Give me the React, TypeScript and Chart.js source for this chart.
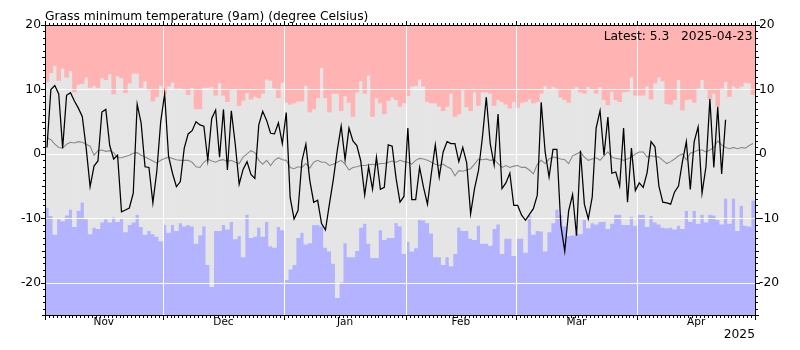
import React, { useEffect, useRef } from 'react';
import { Chart, registerables } from 'chart.js';

Chart.register(...registerables);

const FONT = '"DejaVu Sans", Verdana, sans-serif';

const TITLE = 'Grass minimum temperature (9am) (degree Celsius)';
const LATEST_VALUE = '5.3';
const LATEST_DATE = '2025-04-23';
const YEAR_LABEL = '2025';

const MONTHS = ['Nov', 'Dec', 'Jan', 'Feb', 'Mar', 'Apr'];
// day index at which each month starts (Nov 1 = 0), last entry = May 1
const MONTH_START = [0, 30, 61, 92, 120, 151, 181];
const Y_TICKS = [-20, -10, 0, 10, 20];
const Y_MIN = -25;
const Y_MAX = 20;

// record highest (top of grey band), one per day Nov 1 .. Apr 30
const RECORD_HIGH = [
  11.2, 12.6, 13.7, 11.4, 13.3, 11.9, 12.9, 9.6, 10.8, 10.9, 11.9, 10.3, 10.6, 10.3, 11.8, 11.5, 12.4, 9.3, 12.1, 11.8, 9.5, 11.0, 12.5, 12.5, 10.3, 11.3, 9.9, 8.2, 8.9, 10.6,
  9.3, 10.5, 11.1, 10.2, 10.2, 10.0, 9.2, 10.3, 7.0, 7.0, 10.3, 10.3, 10.4, 9.1, 11.0, 9.1, 8.1, 10.1, 10.1, 7.5, 8.3, 9.5, 8.5, 8.9, 8.7, 9.4, 11.6, 11.4, 10.2, 8.7, 11.1,
  8.0, 7.7, 7.9, 8.2, 8.2, 10.6, 6.5, 7.0, 8.7, 13.4, 8.7, 6.5, 9.4, 9.4, 6.7, 9.0, 8.0, 5.8, 9.6, 11.3, 9.4, 12.2, 5.8, 8.7, 7.9, 6.2, 8.3, 8.8, 8.4, 7.4, 7.9,
  9.0, 10.5, 10.6, 11.6, 10.5, 8.1, 7.9, 7.9, 7.4, 6.7, 7.4, 9.4, 5.8, 6.2, 10.1, 7.3, 6.7, 9.6, 7.5, 9.6, 9.6, 9.4, 7.5, 8.4, 8.1, 7.7, 7.1, 8.1,
  7.2, 8.0, 8.1, 8.5, 7.9, 8.1, 9.4, 10.6, 10.0, 10.4, 10.2, 8.8, 8.4, 8.0, 10.0, 10.4, 9.6, 9.4, 10.4, 10.1, 9.4, 10.4, 8.4, 7.6, 9.7, 8.4, 8.1, 9.6, 9.7, 11.9, 9.1,
  9.1, 9.1, 10.5, 8.5, 11.0, 11.9, 11.3, 7.8, 7.7, 8.4, 11.5, 6.8, 8.4, 8.5, 8.0, 10.2, 11.5, 10.1, 8.5, 9.4, 7.4, 10.2, 11.2, 8.9, 10.5, 10.2, 10.5, 11.1, 11.0, 9.2,
];

// record lowest (bottom of grey band)
const RECORD_LOW = [
  -8.3, -9.6, -12.5, -10.1, -10.4, -9.5, -8.6, -11.3, -8.8, -7.5, -10.1, -12.4, -11.4, -11.6, -10.6, -10.1, -10.6, -9.8, -10.5, -10.0, -12.1, -11.0, -10.6, -9.4, -11.3, -12.5, -11.9, -12.4, -12.8, -13.5,
  -11.0, -12.2, -11.0, -11.9, -10.7, -11.2, -11.0, -11.2, -13.9, -12.6, -11.2, -17.2, -20.6, -11.9, -11.9, -11.0, -11.7, -10.5, -13.2, -12.7, -16.0, -9.4, -13.0, -12.8, -11.4, -12.8, -10.5, -14.3, -14.5, -11.3, -11.8,
  -19.5, -17.9, -17.2, -13.0, -12.2, -14.0, -13.8, -11.0, -11.0, -11.2, -14.5, -15.1, -17.0, -22.3, -19.9, -13.8, -16.0, -16.0, -15.0, -11.4, -10.8, -13.9, -16.1, -16.1, -11.8, -13.3, -13.0, -13.0, -10.7, -11.2, -15.5,
  -13.6, -15.1, -14.6, -10.2, -10.3, -10.7, -12.3, -16.0, -16.0, -17.2, -16.0, -17.4, -15.5, -11.4, -11.9, -11.9, -13.1, -13.3, -11.1, -13.9, -13.9, -14.2, -11.6, -10.9, -15.5, -13.1, -13.1, -15.8,
  -13.1, -13.1, -15.3, -9.5, -12.5, -11.9, -12.0, -15.1, -12.1, -10.7, -8.6, -9.5, -11.2, -12.7, -12.6, -12.2, -12.4, -10.2, -11.5, -10.7, -10.9, -10.5, -10.5, -11.6, -10.8, -9.4, -9.4, -11.0, -11.0, -9.7, -11.1,
  -9.4, -9.4, -11.3, -9.6, -10.6, -10.9, -11.4, -11.5, -11.4, -11.7, -11.1, -11.6, -8.8, -10.5, -8.8, -10.8, -9.4, -10.6, -9.4, -9.5, -10.2, -10.9, -6.9, -10.8, -6.9, -11.9, -8.0, -11.1, -11.2, -7.2,
];

// long-term mean (grey line)
const MEAN = [
  2.5, 2.2, 1.5, 1.0, 0.9, 1.5, 1.8, 1.7, 1.9, 1.8, 1.5, 1.2, -0.2, 0.5, 0.6, 0.4, 0.5, 0.2, -0.6, -0.6, -0.4, -0.2, 0.1, 0.2, -0.2, -0.5, -0.8, -1.1, -1.4, -1.0,
  -0.7, -0.5, -0.7, -0.9, -1.0, -1.0, -1.0, -1.3, -2.0, -2.1, -1.3, -0.8, -1.1, -1.3, -1.0, -0.9, -1.2, -1.0, -1.3, -1.5, -0.5, 0.0, 0.5, 0.2, -1.0, -1.6, -1.0, -1.8, -1.0, -0.6, -0.9,
  -1.0, -2.1, -2.3, -2.0, -2.1, -1.5, -2.2, -1.3, -1.0, -1.3, -1.3, -1.8, -1.6, -1.3, -1.0, -1.6, -2.5, -2.1, -2.0, -1.8, -1.8, -1.7, -1.6, -1.7, -1.5, -1.5, -1.3, -1.1, -1.3, -1.0, -1.2,
  -1.3, -1.6, -1.0, -0.7, -0.8, -1.0, -1.3, -1.6, -1.8, -1.6, -2.0, -2.3, -3.4, -2.6, -2.7, -2.5, -2.3, -1.6, -0.8, -0.9, -0.8, -1.0, -0.9, -1.5, -2.1, -1.8, -2.1, -1.9,
  -1.8, -2.1, -2.1, -2.5, -3.1, -1.6, -1.0, -1.5, -0.8, -0.5, -0.6, -0.8, -0.9, -1.5, -0.3, 0.0, 0.3, -0.5, -1.0, -0.8, -0.6, -1.0, -0.3, 0.3, -0.5, -0.7, -0.8, -1.0, -0.8, -0.5, 0.0,
  0.3, 0.3, -0.5, -0.3, -0.4, -0.5, -1.0, -1.5, -1.2, -0.8, -0.3, 0.0, -0.9, 0.1, 0.3, 0.6, 0.6, 0.3, 0.6, 1.0, 2.0, 1.4, 1.0, 0.8, 1.0, 0.8, 1.0, 0.9, 1.3, 1.6,
];

// this season's observations (black line), Nov 1 .. Apr 23
const ACTUAL = [
  1.0, 10.0, 10.6, 9.3, 0.9, 9.1, 9.5, 8.2, 7.1, 5.8, 0.9, -5.1, -1.9, -1.1, 6.5, 6.9, 1.3, -0.8, -0.2, -9.0, -8.7, -8.4, -6.1, 7.7, 4.8, -2.0, -2.1, -7.6, -2.7, 5.0,
  9.3, -0.4, -3.0, -5.1, -4.3, 0.9, 3.1, 3.6, 5.0, 4.5, 4.3, -1.0, 5.5, 6.8, -0.5, 6.9, -2.5, 6.7, 1.5, -4.7, -2.4, -1.2, -3.2, -3.8, 4.5, 6.6, 5.2, 3.2, 3.1, 4.8, 1.6,
  6.4, -6.8, -10.1, -8.8, -1.1, 1.5, -4.1, -7.5, -7.2, -10.8, -11.8, -7.8, -4.0, 0.5, 4.3, -0.9, 4.0, 2.0, 1.3, -1.1, -6.4, -2.0, -5.5, -0.5, -5.5, -5.2, 1.4, 1.2, -3.8, -7.5, -6.6,
  4.0, -7.1, -7.1, -2.1, -5.2, -7.8, -3.0, 1.4, -3.6, 0.3, 1.9, 1.6, 1.6, -1.2, 1.0, -1.4, -9.3, -5.4, -2.6, 2.5, 8.8, 1.6, -1.7, 6.2, -5.4, -4.5, -3.0, -8.0,
  -8.0, -9.5, -10.3, -9.4, -8.5, -6.4, 8.0, 0.3, -3.6, 0.7, 0.7, -11.1, -15.1, -8.8, -6.3, -12.7, 0.5, -7.8, -10.1, -6.7, 4.0, 6.7, -0.2, 5.7, -3.0, -2.8, -5.0, 4.0, -7.5, 0.9, -5.7,
  -4.5, -5.2, -2.9, 1.9, 1.1, -5.0, -7.5, -7.6, -7.8, -5.9, -5.0, -1.2, 1.9, -5.5, 1.9, 4.2, -6.1, -2.0, 8.5, -2.1, 7.3, -3.1, 5.3,
];

const MONTH_MID = MONTHS.map((_, i) => (MONTH_START[i] + MONTH_START[i + 1]) / 2);
const N_DAYS = MONTH_START[MONTH_START.length - 1];

const framePlugin = {
  id: 'frameAndGrid',
  afterDatasetDraw(chart: any, args: any) {
    // after the last of the band bars is drawn: white grid over the bands, under the lines
    if (args.index !== 0) return;
    const { ctx, chartArea: a, scales } = chart;
    const x = scales.x;
    const y = scales.y;
    ctx.save();
    ctx.strokeStyle = '#ffffff';
    ctx.lineWidth = 1;
    ctx.beginPath();
    for (const v of Y_TICKS) {
      if (v === Y_MAX) continue;
      const py = Math.round(y.getPixelForValue(v)) + 0.5;
      ctx.moveTo(a.left, py);
      ctx.lineTo(a.right, py);
    }
    for (let i = 1; i < MONTH_START.length - 1; i++) {
      const px = Math.round(x.getPixelForValue(MONTH_START[i])) + 0.5;
      ctx.moveTo(px, a.top);
      ctx.lineTo(px, a.bottom);
    }
    ctx.stroke();
    ctx.restore();
  },
  afterDraw(chart: any) {
    const { ctx, chartArea: a, scales } = chart;
    const x = scales.x;
    const y = scales.y;
    ctx.save();
    ctx.strokeStyle = '#000000';
    ctx.lineWidth = 1;
    const L = Math.round(a.left);
    const R = Math.round(a.right);
    const T = Math.round(a.top);
    const B = Math.round(a.bottom);
    ctx.strokeRect(L + 0.5, T + 0.5, R - L, B - T);
    ctx.beginPath();
    for (let d = 0; d <= N_DAYS; d++) {
      const px = Math.round(x.getPixelForValue(d)) + 0.5;
      const len = MONTH_START.includes(d) ? 4 : 2;
      ctx.moveTo(px, T);
      ctx.lineTo(px, T - len);
      ctx.moveTo(px, B + 1);
      ctx.lineTo(px, B + 1 + len);
    }
    for (let v = Y_MIN; v <= Y_MAX; v++) {
      const py = Math.round(y.getPixelForValue(v)) + 0.5;
      const len = v % 10 === 0 ? 4 : v % 5 === 0 ? 3 : 2;
      ctx.moveTo(L, py);
      ctx.lineTo(L - len, py);
      ctx.moveTo(R + 1, py);
      ctx.lineTo(R + 1 + len, py);
    }
    ctx.stroke();

    ctx.fillStyle = '#000000';
    ctx.font = `12.3px ${FONT}`;
    ctx.textBaseline = 'alphabetic';
    ctx.textAlign = 'left';
    ctx.fillText(TITLE, L, 20);
    ctx.textAlign = 'right';
    ctx.fillText(`Latest: ${LATEST_VALUE}   ${LATEST_DATE}`, R - 2.5, 40);
    ctx.restore();
  },
};

export default function App() {
  const ref = useRef<HTMLCanvasElement>(null);

  useEffect(() => {
    const canvas = ref.current;
    if (!canvas) return;
    const dayX = RECORD_HIGH.map((_, i) => i + 0.5);
    const barCommon = {
      type: 'bar' as const,
      grouped: false,
      barPercentage: 1,
      categoryPercentage: 1,
      borderWidth: 0,
      order: 3,
    };
    const yScale = (position: 'left' | 'right') => ({
      type: 'linear' as const,
      position,
      min: Y_MIN,
      max: Y_MAX,
      grid: { display: false, drawTicks: false },
      border: { display: false },
      afterBuildTicks: (s: any) => {
        s.ticks = Y_TICKS.map((v) => ({ value: v }));
      },
      afterFit: (s: any) => {
        s.width = 45;
      },
      ticks: { padding: 4, color: '#000000', font: { family: FONT, size: 12.3 } },
    });

    const chart = new Chart(canvas, {
      type: 'bar',
      data: {
        datasets: [
          {
            ...barCommon,
            label: 'above record',
            data: dayX.map((x, i) => ({ x, y: [RECORD_HIGH[i], Y_MAX] })),
            backgroundColor: '#ffb3b3',
          },
          {
            ...barCommon,
            label: 'record range',
            data: dayX.map((x, i) => ({ x, y: [RECORD_LOW[i], RECORD_HIGH[i]] })),
            backgroundColor: '#e5e5e5',
          },
          {
            ...barCommon,
            label: 'below record',
            data: dayX.map((x, i) => ({ x, y: [Y_MIN, RECORD_LOW[i]] })),
            backgroundColor: '#b3b3ff',
          },
          {
            type: 'line',
            label: 'mean',
            data: dayX.map((x, i) => ({ x, y: MEAN[i] })),
            borderColor: '#8a8a8a',
            borderWidth: 1.1,
            pointRadius: 0,
            fill: false,
            tension: 0,
            order: 1,
          },
          {
            type: 'line',
            label: 'observed',
            data: ACTUAL.map((v, i) => ({ x: i + 0.5, y: v })),
            borderColor: '#000000',
            borderWidth: 1.25,
            pointRadius: 0,
            fill: false,
            tension: 0,
            order: 0,
          },
        ] as any,
      },
      options: {
        responsive: false,
        animation: false,
        devicePixelRatio: 1,
        events: [],
        layout: { padding: { top: 25, left: 0, right: 0, bottom: 0 } },
        plugins: {
          legend: { display: false },
          tooltip: { enabled: false },
          title: { display: false },
        },
        scales: {
          x: {
            type: 'linear',
            min: 0,
            max: N_DAYS,
            offset: false,
            grid: { display: false, drawTicks: false },
            border: { display: false },
            afterBuildTicks: (s: any) => {
              s.ticks = MONTH_MID.map((v) => ({ value: v }));
            },
            afterFit: (s: any) => {
              s.height = 35;
            },
            ticks: {
              autoSkip: false,
              maxRotation: 0,
              padding: 1,
              color: '#000000',
              font: { family: FONT, size: 10.5 },
              callback: (_v: any, i: number) => MONTHS[i],
            },
            title: {
              display: true,
              text: YEAR_LABEL,
              align: 'end',
              color: '#000000',
              font: { family: FONT, size: 12.3 },
              padding: { top: 0, bottom: 8 },
            },
          },
          y: yScale('left'),
          y2: yScale('right'),
        } as any,
      },
      plugins: [framePlugin],
    });
    return () => chart.destroy();
  }, []);

  return (
    <div style={{ position: 'fixed', left: 0, top: 0, width: 800, height: 350, background: '#ffffff' }}>
      <canvas ref={ref} width={800} height={350} style={{ display: 'block', width: 800, height: 350 }} />
    </div>
  );
}
